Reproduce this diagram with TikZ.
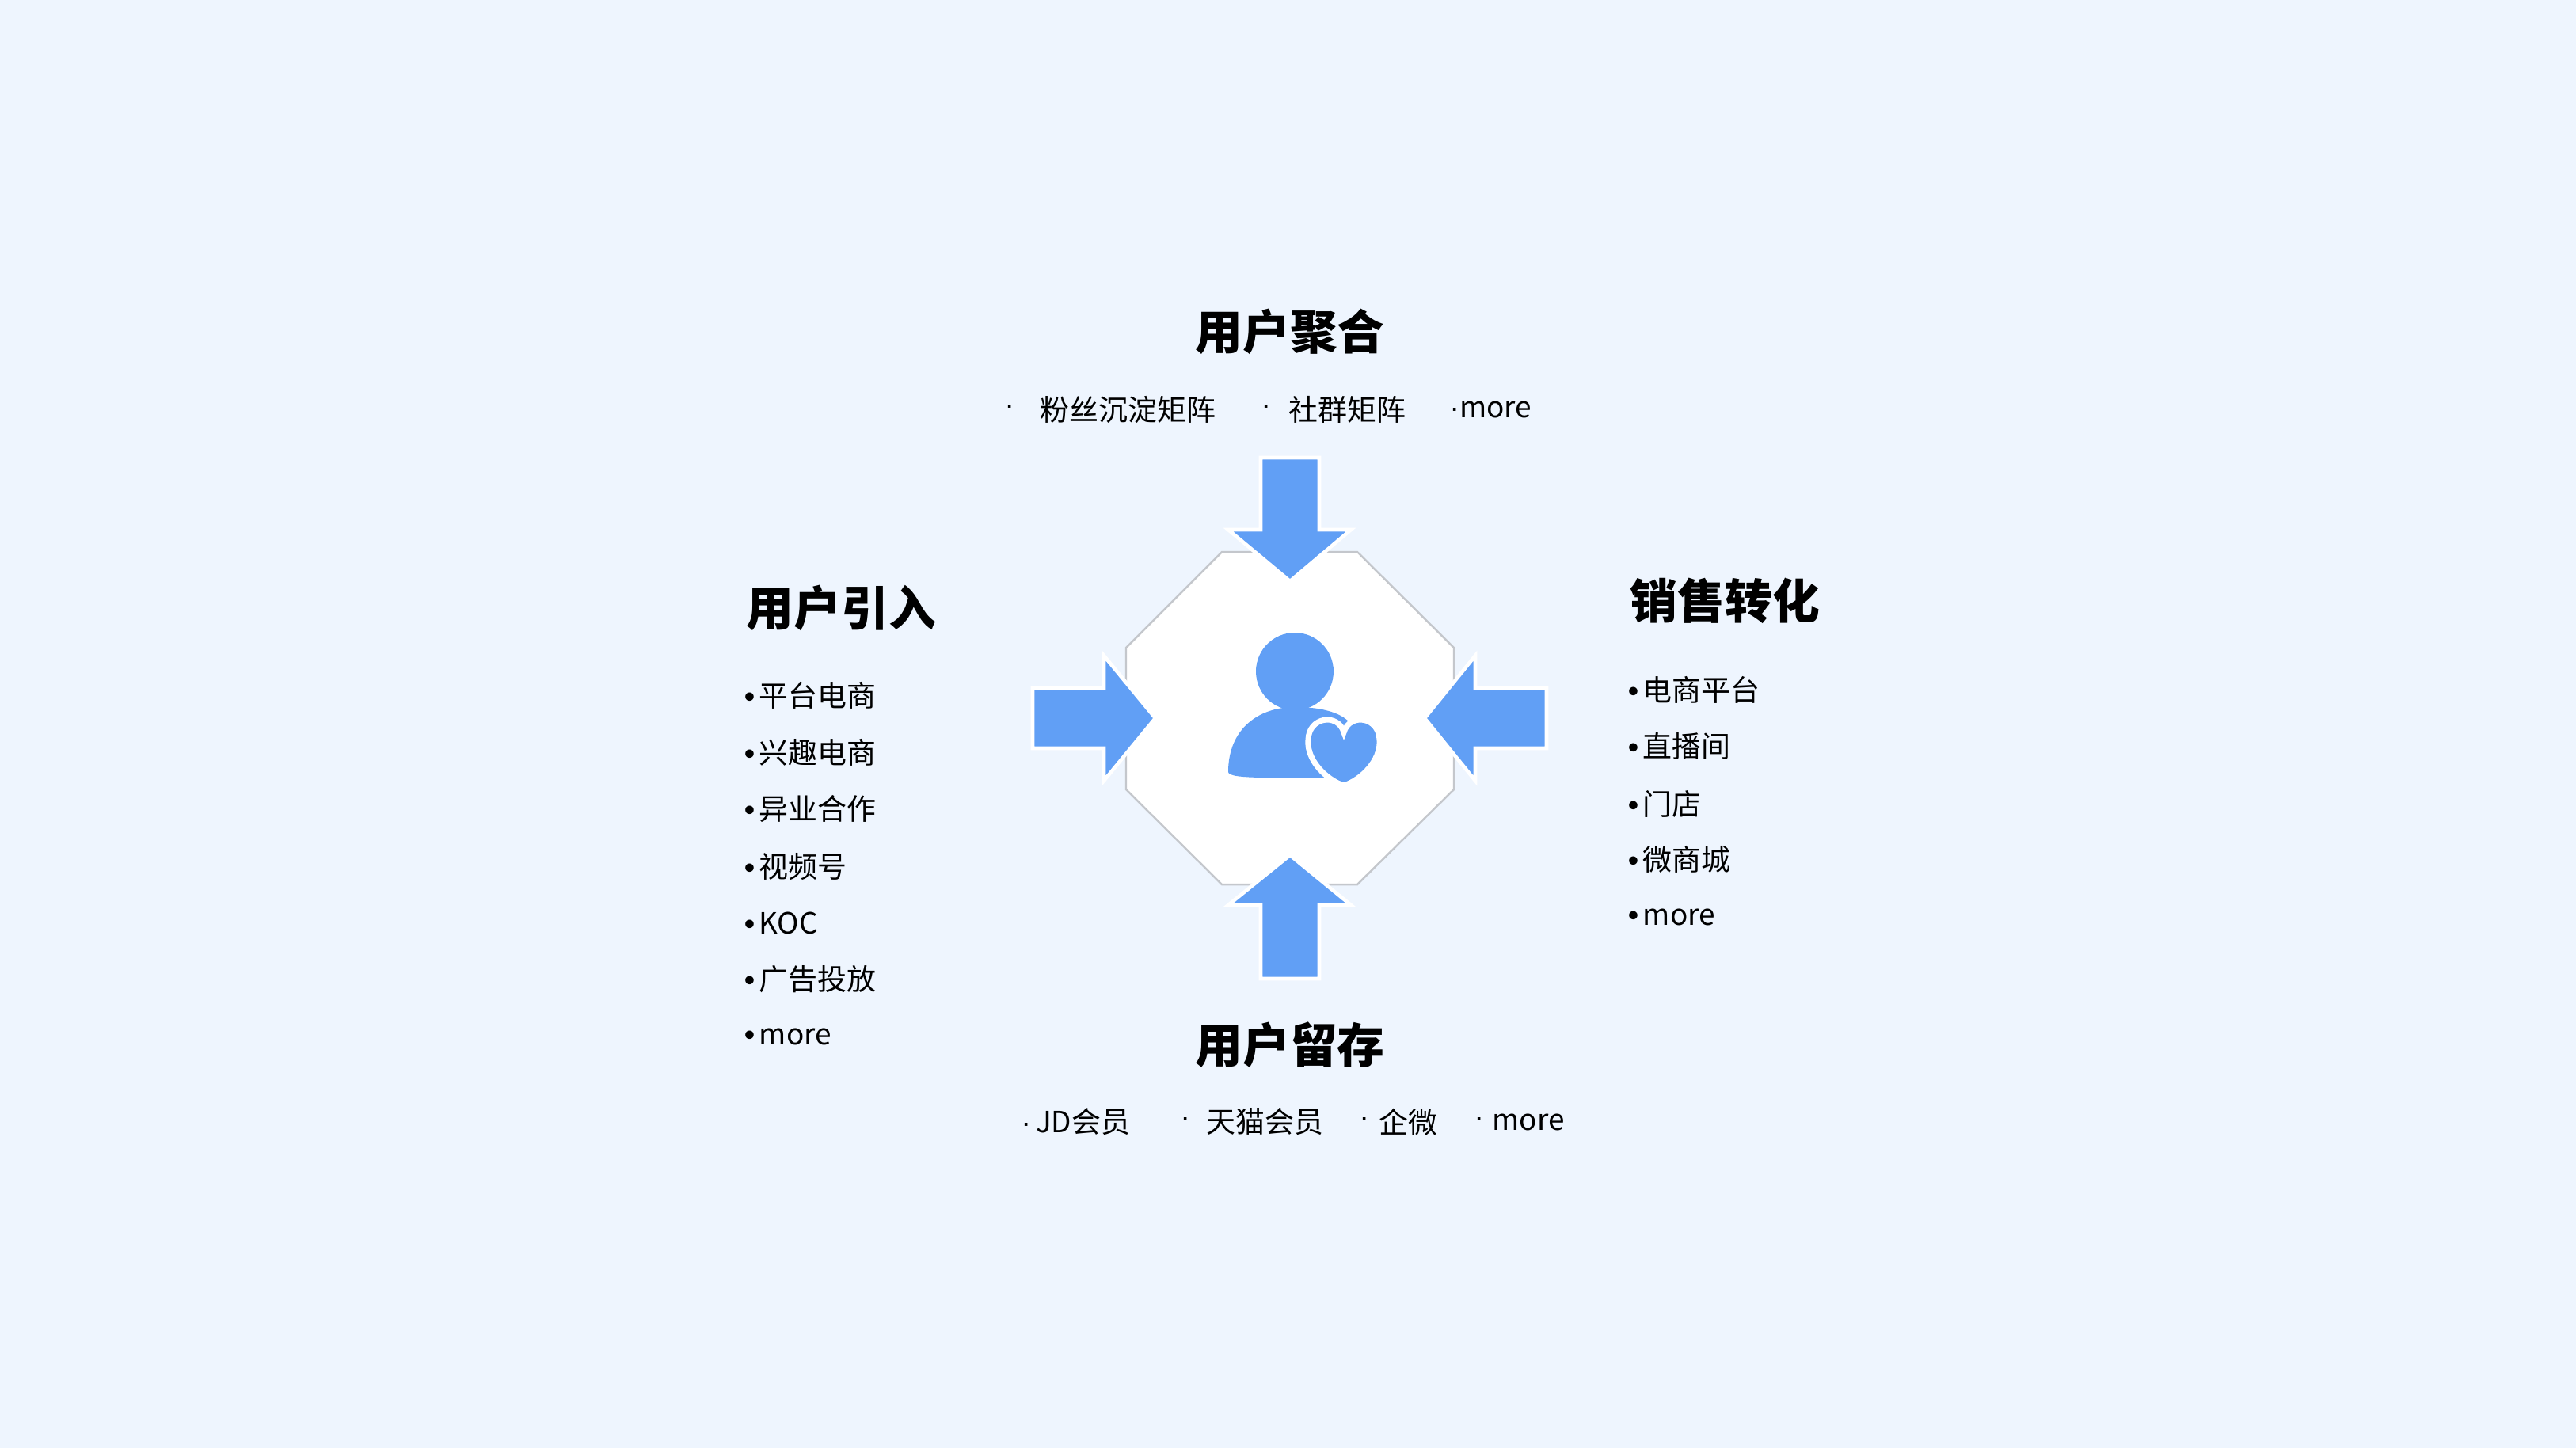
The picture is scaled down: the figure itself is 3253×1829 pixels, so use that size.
\documentclass[tikz,border=0pt]{standalone}
\usepackage{fontspec}
\setmainfont{Noto Sans CJK SC}
\newfontfamily\latinf{Liberation Sans}
\newcommand{\bul}{{\latinf\bfseries •}\kern1.5pt\relax}
\newcommand{\mdt}{{\latinf ·}}
\definecolor{bg}{HTML}{EEF5FE}
\definecolor{ablue}{HTML}{619FF5}
\definecolor{oct}{HTML}{C4C7CC}
\tikzset{
  title/.style={font=\fontsize{17}{19}\selectfont\bfseries, inner sep=0pt},
  item/.style={font=\fontsize{10.5}{12}\selectfont, inner sep=0pt, anchor=west},
  arrowshape/.style={fill=ablue, draw=white, line width=1.3pt, line join=miter},
}
\begin{document}
\begin{tikzpicture}[x=0.01cm,y=-0.01cm]
\fill[bg] (0,0) rectangle (3253,1829);
\useasboundingbox (0,0) rectangle (3253,1829);
% octagon
\filldraw[fill=white, draw=oct, line width=0.7pt] (1543,697) -- (1714,697) -- (1836,818) -- (1836,997) -- (1714,1117) -- (1543,1117) -- (1422,997) -- (1422,818) -- cycle;
% arrows
\path[arrowshape] (1592,578) -- (1666,578) -- (1666,669) -- (1706,669) -- (1629,734) -- (1551,669) -- (1592,669) -- cycle;
\path[arrowshape] (1592,1236) -- (1666,1236) -- (1666,1143) -- (1706,1143) -- (1629,1080) -- (1551,1143) -- (1592,1143) -- cycle;
\path[arrowshape] (1304,869) -- (1394,869) -- (1394,828) -- (1459,907) -- (1394,986) -- (1394,945) -- (1304,945) -- cycle;
\path[arrowshape] (1953,869) -- (1863,869) -- (1863,828) -- (1799,907) -- (1863,986) -- (1863,945) -- (1953,945) -- cycle;
% person icon
\fill[ablue] (1635,848) circle (49);
\fill[ablue] (1551,975) .. controls (1551,920) and (1590,893) .. (1635,893) .. controls (1680,893) and (1715,905) .. (1715,940) -- (1715,982) -- (1600,982) .. controls (1570,982) and (1551,980) .. (1551,975) -- cycle;
% heart with white ring
\path[fill=ablue, draw=white, line width=2pt] (1697,992) .. controls (1675,985) and (1650,960) .. (1652,935) .. controls (1652,905) and (1690,900) .. (1697,925) .. controls (1704,900) and (1742,905) .. (1742,935) .. controls (1744,960) and (1719,985) .. (1697,992) -- cycle;
% titles
\node[title] (t1) at (1629,419) {用户聚合};
\node[title] (t2) at (1629,1320) {用户留存};
\node[title, anchor=west] (t3) at (942,768) {用户引入};
\node[title, anchor=west] (t4) at (2058,759) {销售转化};
% top items
\node[item] (a1) at (1268,517) {\mdt};
\node[item] (a2) at (1313,517) {粉丝沉淀矩阵};
\node[item] (a3) at (1592,517) {\mdt};
\node[item] (a4) at (1627,517) {社群矩阵};
\node[item] (a5) at (1830,517) {\mdt{}more};
% bottom items
\node[item] (b1) at (1289,1417) {\mdt\,JD会员};
\node[item] (b2) at (1490,1417) {\mdt};
\node[item] (b3) at (1523,1417) {天猫会员};
\node[item] (b4) at (1716,1417) {\mdt};
\node[item] (b5) at (1741,1417) {企微};
\node[item] (b6) at (1861,1417) {\mdt};
\node[item] (b7) at (1884,1417) {more};
% left list
\node[item] (l1) at (940,878) {\bul{}平台电商};
\node[item] (l2) at (940,950) {\bul{}兴趣电商};
\node[item] (l3) at (940,1021) {\bul{}异业合作};
\node[item] (l4) at (940,1094) {\bul{}视频号};
\node[item] (l5) at (940,1166) {\bul{}KOC};
\node[item] (l6) at (940,1237) {\bul{}广告投放};
\node[item] (l7) at (940,1309) {\bul{}more};
% right list
\node[item] (r1) at (2056,871) {\bul{}电商平台};
\node[item] (r2) at (2056,942) {\bul{}直播间};
\node[item] (r3) at (2056,1015) {\bul{}门店};
\node[item] (r4) at (2056,1085) {\bul{}微商城};
\node[item] (r5) at (2056,1158) {\bul{}more};
\end{tikzpicture}
\end{document}
